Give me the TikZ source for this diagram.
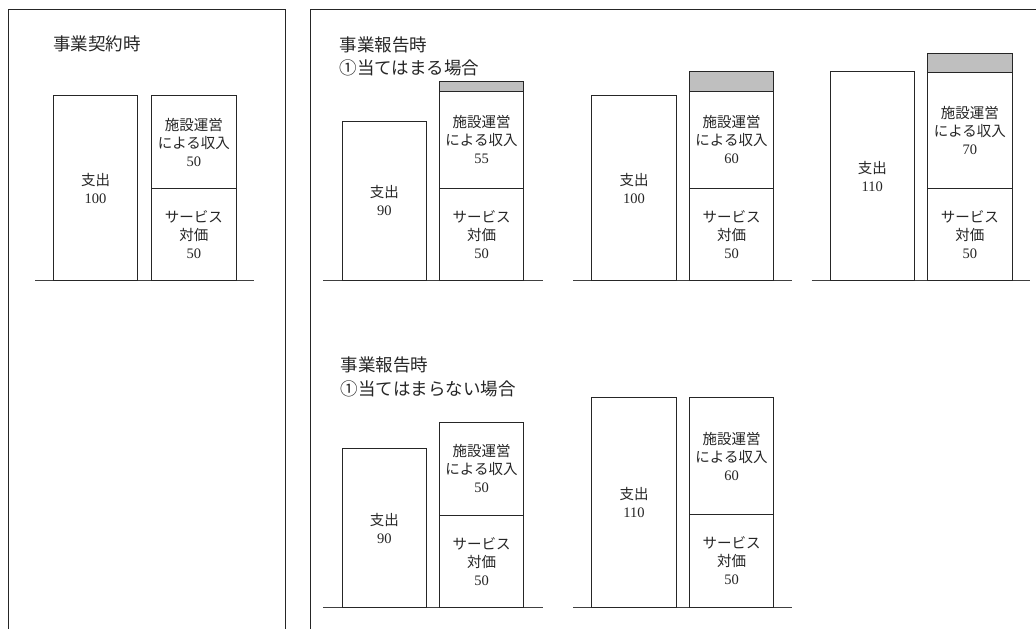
\documentclass[tikz,border=0pt]{standalone}
\usepackage{fontspec}
\setmainfont{Liberation Serif}
\newfontfamily\jp{Noto Sans CJK JP}
\newfontfamily\numfont{Liberation Serif}
\begin{document}
\begin{tikzpicture}[x=1pt,y=-1pt,
  frame/.style={line width=0.9pt,draw=black!85},
  ground/.style={line width=0.9pt,draw=black!75},
  bar/.style={draw=black!85,line width=0.9pt,fill=white,rectangle,inner sep=0pt,outer sep=0pt,
    anchor=south west,align=center,text=black!85,
    font=\jp\fontsize{14.5}{18}\selectfont},
  expbar/.style={bar,minimum width=84.6pt},
  revbar/.style={bar,minimum width=84.4pt},
  surplus/.style={revbar,fill=black!25},
  heading/.style={anchor=west,align=left,inner sep=0pt,text=black!85,
    font=\jp\fontsize{17.5}{23.5}\selectfont}
]
\useasboundingbox (0,0) rectangle (1036,629);
% frames
\draw[frame] (8,629) -- (8,9.5) -- (285,9.5) -- (285,629);
\draw[frame] (310,629) -- (310,9.5) -- (1036,9.5);

% ---------- left panel ----------
\node[heading] (t0) at (53,44) {事業契約時};
\draw[ground] (35,280.7) -- (254.3,280.7);
\node[expbar,minimum height=185pt] (e0) at (53.3,280.7) {支出\\{\numfont 100}};
\node[revbar,minimum height=92.4pt] (s0) at (151.7,280.7) {サービス\\対価\\{\numfont 50}};
\node[revbar,minimum height=92.6pt,anchor=south] (o0) at (s0.north) {施設運営\\による収入\\{\numfont 50}};

% ---------- top right ----------
\node[heading] (t1) at (339.5,56.5) {事業報告時\\①当てはまる場合};

% panel A
\draw[ground] (323,280.7) -- (543,280.7);
\node[expbar,minimum height=159.7pt] (e1) at (342,280.7) {支出\\{\numfont 90}};
\node[revbar,minimum height=92.7pt] (s1) at (439.3,280.7) {サービス\\対価\\{\numfont 50}};
\node[revbar,minimum height=97pt,anchor=south] (o1) at (s1.north) {施設運営\\による収入\\{\numfont 55}};
\node[surplus,minimum height=9.3pt,anchor=south] (g1) at (o1.north) {};

% panel B
\draw[ground] (573,280.7) -- (792,280.7);
\node[expbar,minimum height=185pt] (e2) at (591.7,280.7) {支出\\{\numfont 100}};
\node[revbar,minimum height=92.7pt] (s2) at (689.3,280.7) {サービス\\対価\\{\numfont 50}};
\node[revbar,minimum height=96.7pt,anchor=south] (o2) at (s2.north) {施設運営\\による収入\\{\numfont 60}};
\node[surplus,minimum height=19.6pt,anchor=south] (g2) at (o2.north) {};

% panel C
\draw[ground] (811.7,280.3) -- (1030,280.3);
\node[expbar,minimum height=208.5pt] (e3) at (830,280.3) {支出\\{\numfont 110}};
\node[revbar,minimum height=92pt] (s3) at (927.7,280.3) {サービス\\対価\\{\numfont 50}};
\node[revbar,minimum height=116pt,anchor=south] (o3) at (s3.north) {施設運営\\による収入\\{\numfont 70}};
\node[surplus,minimum height=19pt,anchor=south] (g3) at (o3.north) {};

% ---------- bottom right ----------
\node[heading] (t2) at (340.7,377) {事業報告時\\①当てはまらない場合};

% panel D
\draw[ground] (323,607.7) -- (543,607.7);
\node[expbar,minimum height=159.4pt] (e4) at (342,607.7) {支出\\{\numfont 90}};
\node[revbar,minimum height=92.7pt] (s4) at (439.3,607.7) {サービス\\対価\\{\numfont 50}};
\node[revbar,minimum height=92.3pt,anchor=south] (o4) at (s4.north) {施設運営\\による収入\\{\numfont 50}};

% panel E
\draw[ground] (573,607.3) -- (792,607.3);
\node[expbar,minimum height=210pt] (e5) at (591.7,607.3) {支出\\{\numfont 110}};
\node[revbar,minimum height=92.7pt] (s5) at (689.3,607.3) {サービス\\対価\\{\numfont 50}};
\node[revbar,minimum height=117pt,anchor=south] (o5) at (s5.north) {施設運営\\による収入\\{\numfont 60}};
\end{tikzpicture}
\end{document}
